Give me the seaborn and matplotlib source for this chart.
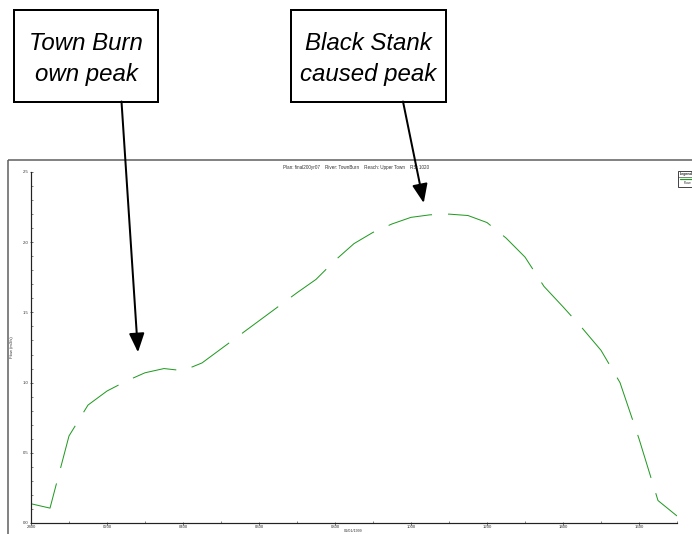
import matplotlib
matplotlib.use("Agg")
import matplotlib.pyplot as plt
from matplotlib.patches import Rectangle
from matplotlib.lines import Line2D
from matplotlib.ticker import FixedLocator, MultipleLocator
import pandas as pd
import seaborn as sns

# Hydrograph at RS 1020 (hours after midnight, flow in m3/s)
hours = [0.0, 0.5, 1.0, 1.5, 2.0, 2.5, 3.0, 3.5, 4.0, 4.5,
         5.0, 5.5, 6.0, 6.5, 7.0, 7.5, 8.0, 8.5, 9.0, 9.5,
         10.0, 10.5, 11.0, 11.5, 12.0, 12.5, 13.0, 13.5, 14.0, 14.5,
         15.0, 15.5, 16.0, 16.5, 17.0]
flow = [0.137, 0.106, 0.62, 0.84, 0.94, 1.01, 1.07, 1.10, 1.085, 1.14,
        1.24, 1.34, 1.44, 1.54, 1.64, 1.735, 1.87, 1.99, 2.07, 2.13,
        2.177, 2.195, 2.20, 2.19, 2.14, 2.03, 1.894, 1.685, 1.54, 1.39,
        1.23, 1.0, 0.60, 0.16, 0.05]
x_tick_hours = [0, 2, 4, 6, 8, 10, 12, 14, 16]
x_tick_labels = ["2400", "0200", "0400", "0600", "0800", "1000", "1200", "1400", "1600"]
y_ticks = [0.0, 0.5, 1.0, 1.5, 2.0, 2.5]
y_tick_labels = ["0.0", "0.5", "1.0", "1.5", "2.0", "2.5"]

title = "Plan: final200yr07    River: TownBurn    Reach: Upper Town    RS: 1020"
date_label = "01/01/1999"
y_label = "Flow (m3/s)"
series_name = "Flow"
note_left = ["Town Burn", "own peak"]
note_right = ["Black Stank", "caused peak"]

LINE_GREEN = "#1f9a1f"

sns.set_theme(style="white")
plt.rcParams["font.family"] = ["Liberation Sans", "DejaVu Sans"]

W, H, DPI = 692, 534, 72
fig = plt.figure(figsize=(W / DPI, H / DPI), dpi=DPI)
fig.patch.set_facecolor("white")

# overlay in pixel coordinates (origin top-left) for frame, notes and legend
over = fig.add_axes([0, 0, 1, 1], zorder=0)
over.set_xlim(0, W)
over.set_ylim(H, 0)
over.axis("off")

# main hydrograph axes
left, right, top, bottom = 31, 677, 172, 523
ax = fig.add_axes([left / W, (H - bottom) / H, (right - left) / W, (bottom - top) / H], zorder=1)
ax.patch.set_alpha(0)

df = pd.DataFrame({"hour": hours, "flow": flow})
sns.lineplot(data=df, x="hour", y="flow", ax=ax, color=LINE_GREEN, linewidth=1.0,
             estimator=None, sort=False)
ax.lines[0].set_dashes((45, 16))

ax.set_xlim(0, 17)
ax.set_ylim(0, 2.5)
ax.xaxis.set_major_locator(FixedLocator(x_tick_hours))
ax.set_xticklabels(x_tick_labels)
ax.xaxis.set_minor_locator(MultipleLocator(1))
ax.set_yticks(y_ticks)
ax.set_yticklabels(y_tick_labels)
ax.yaxis.set_minor_locator(MultipleLocator(0.1))
ax.tick_params(axis="both", which="major", direction="inout", length=3, width=0.7,
               labelsize=4.2, colors="#333333", pad=1)
ax.tick_params(axis="both", which="minor", direction="in", length=2, width=0.6,
               colors="#333333")
ax.tick_params(axis="both", which="both", bottom=True, left=True)
ax.set_xlabel("")
ax.set_ylabel("")
for side in ("top", "right"):
    ax.spines[side].set_visible(False)
for side in ("left", "bottom"):
    ax.spines[side].set_color("#222222")
    ax.spines[side].set_linewidth(1.2)
ax.grid(False)

# chart frame, title and axis captions
over.add_patch(Rectangle((8, 160), 720, 420, fill=False, edgecolor="#666666", linewidth=1.6))
over.text(356, 167, title, fontsize=4.6, color="#333333", ha="center", va="center")
over.text(353, 531, date_label, fontsize=3.8, color="#333333", ha="center", va="center")
over.text(12, 347, y_label, fontsize=4.2, color="#333333", ha="center", va="center", rotation=90)

# clipped legend box at the right edge
over.add_patch(Rectangle((678, 171), 40, 16, facecolor="white", edgecolor="#333333", linewidth=0.9))
over.text(680, 174, "Legend", fontsize=3.6, fontweight="bold", color="#222222", ha="left", va="center")
over.add_line(Line2D([678, 718], [176.5, 176.5], color="#333333", linewidth=0.6))
over.add_line(Line2D([680, 718], [179, 179], color=LINE_GREEN, linewidth=1.2))
over.text(684, 183, series_name, fontsize=3.6, color="#333333", ha="left", va="center")

# annotation boxes with two-line italic notes
box_style = dict(facecolor="white", edgecolor="black", linewidth=2.0)
for (x0, x1), lines in (((14, 158), note_left), ((291, 446), note_right)):
    over.add_patch(Rectangle((x0, 9.5), x1 - x0, 92, **box_style))
    cx = (x0 + x1) / 2
    for text_line, baseline in zip(lines, (50, 81.5)):
        over.text(cx, baseline, text_line, fontsize=24, style="italic", ha="center",
                  va="baseline", color="black")

# arrows from the notes down to the two peaks
arrow = dict(arrowstyle="-|>,head_length=16,head_width=6.5", mutation_scale=1,
             color="black", lw=2.0, shrinkA=0, shrinkB=0)
ax.annotate("", xy=(2.815, 1.216), xycoords="data",
            xytext=(121.5, H - 101.5), textcoords="figure pixels",
            arrowprops=arrow, annotation_clip=False)
ax.annotate("", xy=(10.335, 2.279), xycoords="data",
            xytext=(403, H - 101.5), textcoords="figure pixels",
            arrowprops=arrow, annotation_clip=False)

fig.savefig("out.png", dpi=DPI, facecolor="white")
